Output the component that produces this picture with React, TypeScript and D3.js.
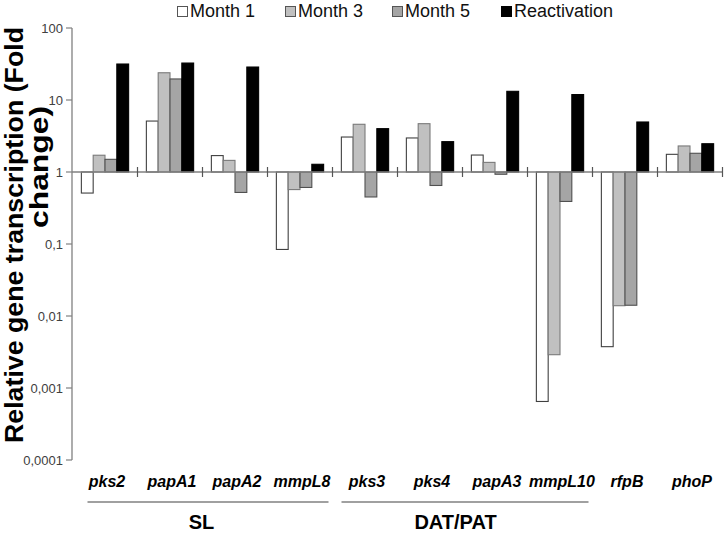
import React from "react";
import * as d3 from "d3";

const genes = ["pks2", "papA1", "papA2", "mmpL8", "pks3", "pks4", "papA3", "mmpL10", "rfpB", "phoP"];
const seriesNames = ["Month 1", "Month 3", "Month 5", "Reactivation"];
const month1 = [0.51, 5.1, 1.69, 0.084, 3.06, 2.97, 1.72, 0.00065, 0.00375, 1.76];
const month3 = [1.71, 23.9, 1.45, 0.57, 4.6, 4.69, 1.36, 0.0029, 0.0139, 2.3];
const month5 = [1.5, 19.6, 0.52, 0.61, 0.45, 0.65, 0.93, 0.39, 0.0141, 1.82];
const reactivation = [31.6, 32.6, 28.7, 1.28, 4.0, 2.64, 13.2, 11.9, 4.95, 2.47];
const yTicks = [100, 10, 1, 0.1, 0.01, 0.001, 0.0001];
const yTickLabels = ["100", "10", "1", "0,1", "0,01", "0,001", "0,0001"];
const groupNames = ["SL", "DAT/PAT"];
const groupMembers = [["pks2", "mmpL8"], ["pks3", "mmpL10"]];

const fills = ["#ffffff", "#c0c0c0", "#a5a5a5", "#000000"];
const strokes = ["#404040", "#7a7a7a", "#505050", "#000000"];
const FONT = "'Liberation Sans', Arial, sans-serif";

export default function App() {
  const W = 726, H = 534;
  const values = [month1, month3, month5, reactivation];
  const x0 = d3.scaleBand<string>().domain(genes).range([72.5, 722.5]).padding(0);
  const x1 = d3.scaleBand<string>().domain(seriesNames).range([0, x0.bandwidth()]).paddingInner(0).paddingOuter(0.75);
  const y = d3.scaleLog().domain([0.0001, 100]).range([460, 28]);
  const y1 = y(1);
  const axisX = 72;

  const legendX = [177, 285, 392, 501];

  return (
    <svg width={W} height={H} style={{ position: "absolute", left: 0, top: 0, background: "#fff" }} fontFamily={FONT}>
      <rect x={0} y={0} width={W} height={H} fill="#fff" />
      {/* Legend */}
      {seriesNames.map((s, i) => (
        <g key={s}>
          <rect x={legendX[i] + 0.5} y={6.5} width={10} height={10} fill={fills[i]} stroke={i === 3 ? "#000" : "#555"} strokeWidth={1} />
          <text x={legendX[i] + 13} y={17} fontSize={18} fill="#111">{s}</text>
        </g>
      ))}

      {/* Bars */}
      {genes.map((g, gi) => (
        <g key={g}>
          {values.map((arr, si) => {
            const v = arr[gi];
            const xx = (x0(g) as number) + (x1(seriesNames[si]) as number);
            const yv = y(v);
            const top = Math.min(yv, y1);
            const h = Math.abs(yv - y1);
            return (
              <rect key={si} x={xx} y={top} width={x1.bandwidth()} height={h}
                fill={fills[si]} stroke={strokes[si]} strokeWidth={1.1} />
            );
          })}
        </g>
      ))}

      {/* Baseline at 1 */}
      <line x1={axisX} x2={722.5} y1={y1} y2={y1} stroke="#808080" strokeWidth={1.3} />
      {genes.map((g) => (
        <line key={g} x1={(x0(g) as number) + x0.bandwidth()} x2={(x0(g) as number) + x0.bandwidth()} y1={y1 - 5} y2={y1 + 5} stroke="#555" strokeWidth={1.2} />
      ))}

      {/* Y axis */}
      <line x1={axisX} x2={axisX} y1={y(100)} y2={y(0.0001)} stroke="#808080" strokeWidth={1.3} />
      {yTicks.map((t, i) => (
        <g key={t}>
          <line x1={axisX - 6} x2={axisX} y1={y(t)} y2={y(t)} stroke="#808080" strokeWidth={1.2} />
          <text x={63} y={y(t) + 4.5} fontSize={13} textAnchor="end" fill="#404040">{yTickLabels[i]}</text>
        </g>
      ))}

      {/* Y title */}
      <text transform="translate(23,235) rotate(-90)" fontSize={25} fontWeight="bold" textAnchor="middle"
        textLength={416} lengthAdjust="spacingAndGlyphs" fill="#000">Relative gene transcription (Fold</text>
      <text transform="translate(48,167) rotate(-90)" fontSize={25} fontWeight="bold" textAnchor="middle"
        textLength={122} lengthAdjust="spacingAndGlyphs" fill="#000">change)</text>

      {/* Gene labels */}
      {genes.map((g) => (
        <text key={g} x={(x0(g) as number) + x0.bandwidth() / 2 + 2} y={487} fontSize={16} fontWeight="bold"
          fontStyle="italic" textAnchor="middle" fill="#000">{g}</text>
      ))}

      {/* Group lines and labels */}
      {groupNames.map((name, i) => {
        const a = x0(groupMembers[i][0]) as number;
        const b = (x0(groupMembers[i][1]) as number) + x0.bandwidth();
        return (
          <g key={name}>
            <line x1={a + (i === 0 ? 15 : 9)} x2={b - 4} y1={502} y2={502} stroke="#808080" strokeWidth={1.5} />
            <text x={(a + b) / 2 - (i === 0 ? 1 : 7)} y={529} fontSize={20} fontWeight="bold" textAnchor="middle" fill="#000">{name}</text>
          </g>
        );
      })}
    </svg>
  );
}
